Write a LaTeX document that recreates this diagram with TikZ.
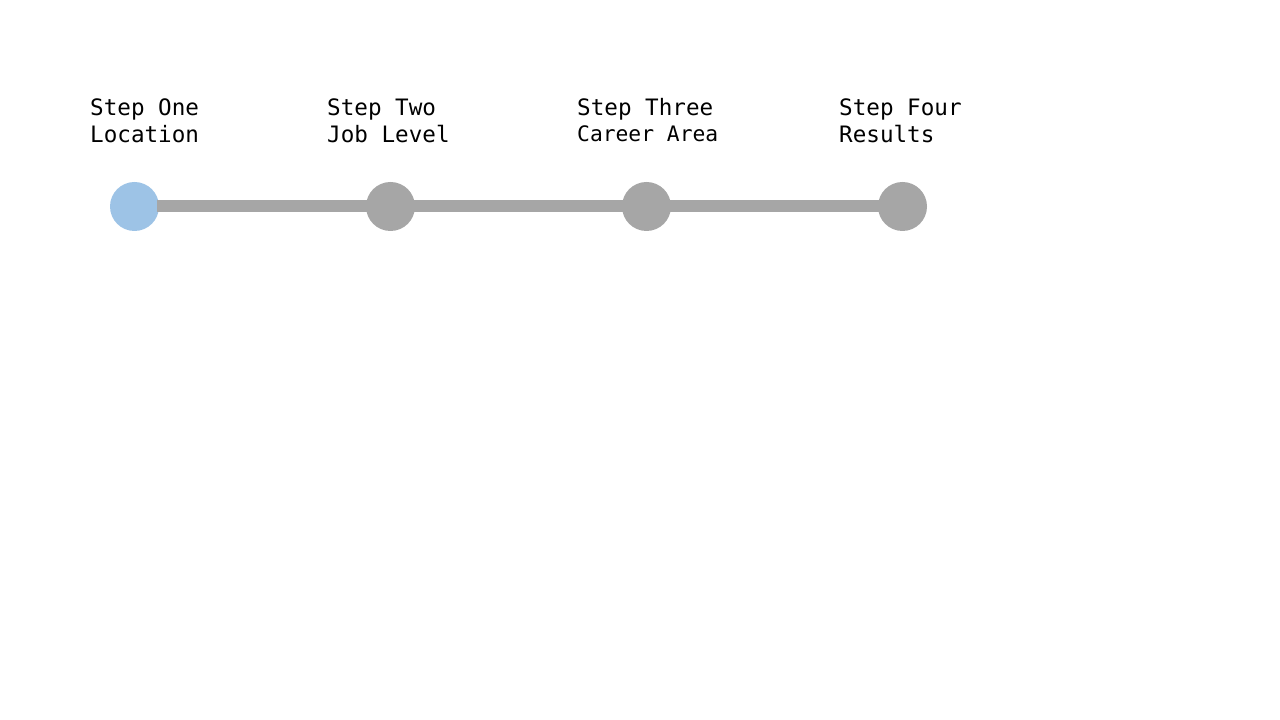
\documentclass[tikz,border=0pt]{standalone}
\usepackage{fontspec}
\usepackage{tikz}
\newfontfamily\stepfont{DejaVu Sans Mono}
\definecolor{railgray}{HTML}{A6A6A6}
\definecolor{doneblue}{HTML}{9DC3E6}
\tikzset{stepdot/.style = {shape=circle,fill=railgray,minimum size=49pt,inner sep=0pt}}
\tikzset{steplabel/.style = {anchor=base west,inner sep=0pt,font=\stepfont\fontsize{22.6}{27}\selectfont}}
\tikzset{rail/.style = {draw=railgray,line width=12pt,shorten <=-2pt,shorten >=-2pt}}

\begin{document}
\begin{tikzpicture}[x=1pt,y=1pt]
                \useasboundingbox (0,0) rectangle (1280,720);

                \node[stepdot,fill=doneblue] (S1) at (134.5,513.5) {};
                \node[stepdot] (S2) at (390.5,513.5) {};
                \node[stepdot] (S3) at (646.5,513.5) {};
                \node[stepdot] (S4) at (902.5,513.5) {};

                \draw[rail] (S1) -- (S4);

                \node[steplabel] (T1) at (90,604) {Step One};
                \node[steplabel] (L1) at (90,577) {Location};
                \node[steplabel] (T2) at (327,604) {Step Two};
                \node[steplabel] (L2) at (327,577) {Job Level};
                \node[steplabel] (T3) at (577,604) {Step Three};
                \node[steplabel,font=\stepfont\fontsize{21.3}{26}\selectfont] (L3) at (577,578.5) {Career Area};
                \node[steplabel] (T4) at (839,604) {Step Four};
                \node[steplabel] (L4) at (839,577) {Results};
            \end{tikzpicture}
\end{document}
